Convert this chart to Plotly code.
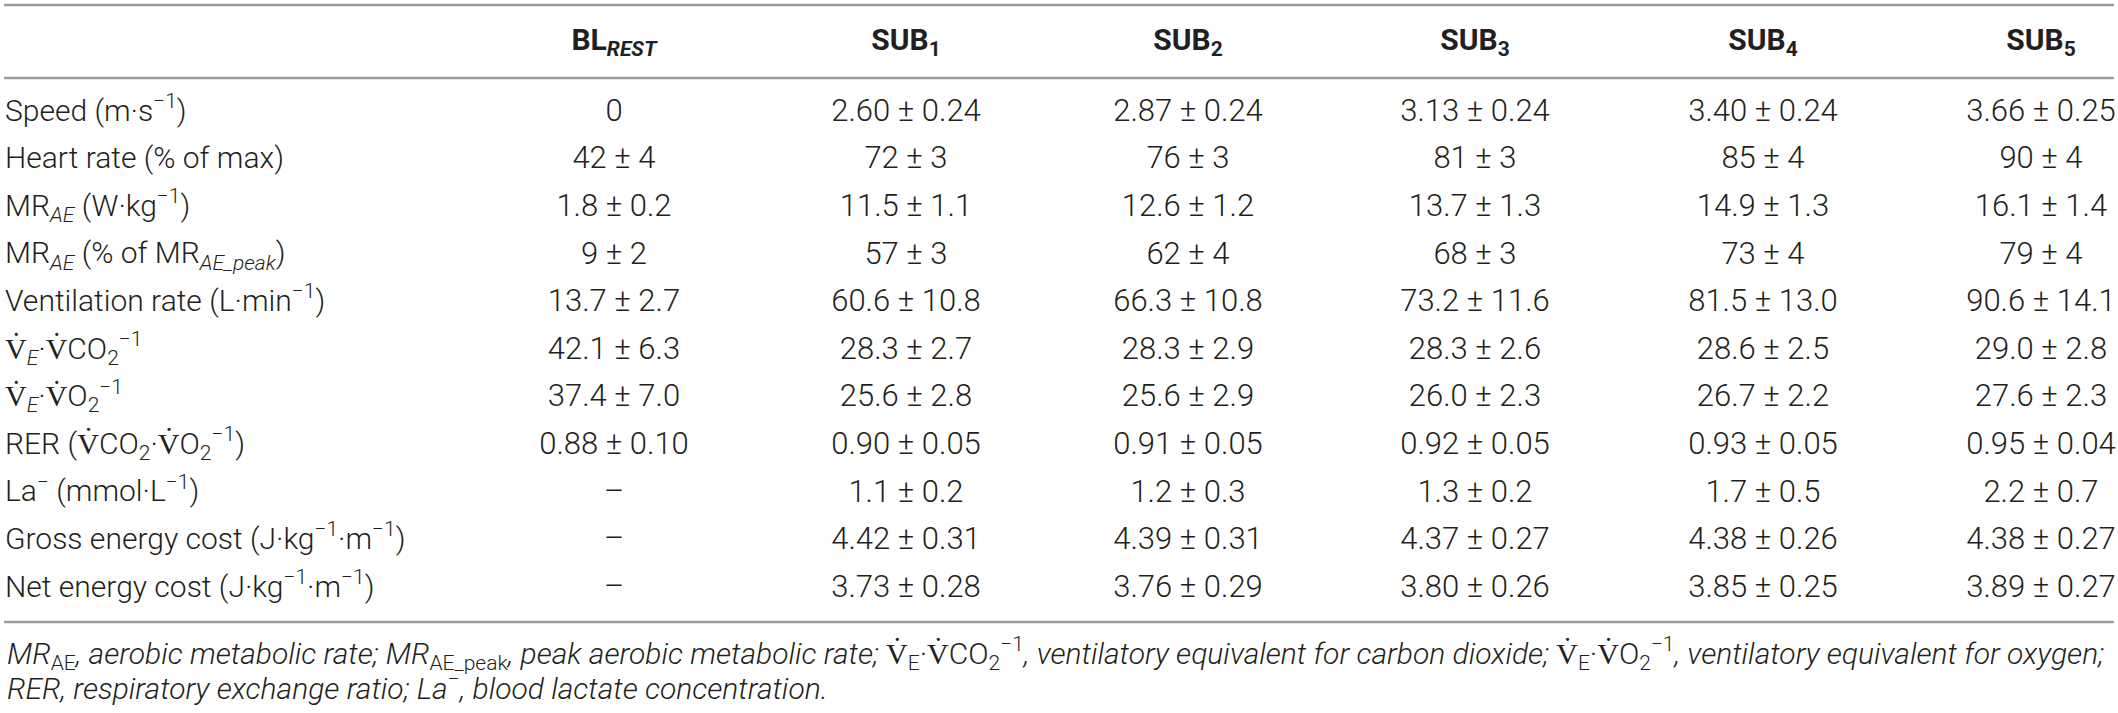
import plotly.graph_objects as go

# Table content
row_labels = [
    "Speed (m·s<sup>−1</sup>)",
    "Heart rate (% of max)",
    "MR<sub><i>AE</i></sub> (W·kg<sup>−1</sup>)",
    "MR<sub><i>AE</i></sub> (% of MR<sub><i>AE_peak</i></sub>)",
    "Ventilation rate (L·min<sup>−1</sup>)",
    "V̇<sub><i>E</i></sub>·V̇CO<sub>2</sub><sup>−1</sup>",
    "V̇<sub><i>E</i></sub>·V̇O<sub>2</sub><sup>−1</sup>",
    "RER (V̇CO<sub>2</sub>·V̇O<sub>2</sub><sup>−1</sup>)",
    "La<sup>−</sup> (mmol·L<sup>−1</sup>)",
    "Gross energy cost (J·kg<sup>−1</sup>·m<sup>−1</sup>)",
    "Net energy cost (J·kg<sup>−1</sup>·m<sup>−1</sup>)",
]

col_headers = ["BL<sub><i>REST</i></sub>", "SUB<sub>1</sub>", "SUB<sub>2</sub>",
               "SUB<sub>3</sub>", "SUB<sub>4</sub>", "SUB<sub>5</sub>"]

bl_rest = ["0", "42 ± 4", "1.8 ± 0.2", "9 ± 2", "13.7 ± 2.7", "42.1 ± 6.3",
           "37.4 ± 7.0", "0.88 ± 0.10", "–", "–", "–"]
sub1 = ["2.60 ± 0.24", "72 ± 3", "11.5 ± 1.1", "57 ± 3", "60.6 ± 10.8", "28.3 ± 2.7",
        "25.6 ± 2.8", "0.90 ± 0.05", "1.1 ± 0.2", "4.42 ± 0.31", "3.73 ± 0.28"]
sub2 = ["2.87 ± 0.24", "76 ± 3", "12.6 ± 1.2", "62 ± 4", "66.3 ± 10.8", "28.3 ± 2.9",
        "25.6 ± 2.9", "0.91 ± 0.05", "1.2 ± 0.3", "4.39 ± 0.31", "3.76 ± 0.29"]
sub3 = ["3.13 ± 0.24", "81 ± 3", "13.7 ± 1.3", "68 ± 3", "73.2 ± 11.6", "28.3 ± 2.6",
        "26.0 ± 2.3", "0.92 ± 0.05", "1.3 ± 0.2", "4.37 ± 0.27", "3.80 ± 0.26"]
sub4 = ["3.40 ± 0.24", "85 ± 4", "14.9 ± 1.3", "73 ± 4", "81.5 ± 13.0", "28.6 ± 2.5",
        "26.7 ± 2.2", "0.93 ± 0.05", "1.7 ± 0.5", "4.38 ± 0.26", "3.85 ± 0.25"]
sub5 = ["3.66 ± 0.25", "90 ± 4", "16.1 ± 1.4", "79 ± 4", "90.6 ± 14.1", "29.0 ± 2.8",
        "27.6 ± 2.3", "0.95 ± 0.04", "2.2 ± 0.7", "4.38 ± 0.27", "3.89 ± 0.27"]

footnote_1 = ("<i>MR</i><sub>AE</sub><i>, aerobic metabolic rate; MR</i><sub>AE_peak</sub>"
              "<i>, peak aerobic metabolic rate; </i>V̇<sub>E</sub>·V̇CO<sub>2</sub><sup>−1</sup>"
              "<i>, ventilatory equivalent for carbon dioxide; </i>V̇<sub>E</sub>·V̇O<sub>2</sub><sup>−1</sup>"
              "<i>, ventilatory equivalent for oxygen;</i>")
footnote_2 = "<i>RER, respiratory exchange ratio; La</i><sup>−</sup><i>, blood lactate concentration.</i>"

columns = [bl_rest, sub1, sub2, sub3, sub4, sub5]

# axes span the whole page in pixels (x right, y down)
W, H = 2118, 713
col_x = [614, 906, 1188, 1475, 1763, 2041]
label_x = 5
header_y = 42
row_y0, row_dy = 113, 47.6
row_y = [row_y0 + i * row_dy for i in range(len(row_labels))]
rule_y = [5, 78, 622]
note_y = [653, 686]

FONT = "Roboto"
TXT = "#231f20"
RULE = "#9a9a9a"

fig = go.Figure()

# header
fig.add_trace(go.Scatter(
    x=col_x, y=[header_y] * len(col_x), mode="text",
    text=["<b>%s</b>" % h for h in col_headers],
    textposition="middle center",
    textfont=dict(family=FONT, size=30, color=TXT, weight=700),
    hoverinfo="skip", showlegend=False,
))

# row labels
fig.add_trace(go.Scatter(
    x=[label_x] * len(row_labels), y=row_y, mode="text",
    text=row_labels, textposition="middle right",
    textfont=dict(family=FONT, size=30, color=TXT, weight=300),
    hoverinfo="skip", showlegend=False,
))

# value cells
for cx, vals in zip(col_x, columns):
    fig.add_trace(go.Scatter(
        x=[cx] * len(vals), y=row_y, mode="text",
        text=vals, textposition="middle center",
        textfont=dict(family=FONT, size=31, color=TXT, weight=300),
        hoverinfo="skip", showlegend=False,
    ))

for ry in rule_y:
    fig.add_shape(type="line", xref="x", yref="y", x0=4, x1=2114, y0=ry, y1=ry,
                  line=dict(color=RULE, width=2.5), layer="above")

for ty, txt in zip(note_y, [footnote_1, footnote_2]):
    fig.add_annotation(x=label_x, y=ty, xref="x", yref="y", text=txt,
                       showarrow=False, xanchor="left", yanchor="middle",
                       font=dict(family=FONT, size=30, color=TXT, weight=300))

fig.update_xaxes(range=[0, W], visible=False, fixedrange=True)
fig.update_yaxes(range=[H, 0], visible=False, fixedrange=True)
fig.update_layout(
    width=W, height=H,
    margin=dict(l=0, r=0, t=0, b=0),
    plot_bgcolor="white", paper_bgcolor="white",
)

# drop the default 8px body margin so the figure fills the window exactly
fig.write_html("out.html", config={"displayModeBar": False},
               post_script="document.body.style.margin='0';")
